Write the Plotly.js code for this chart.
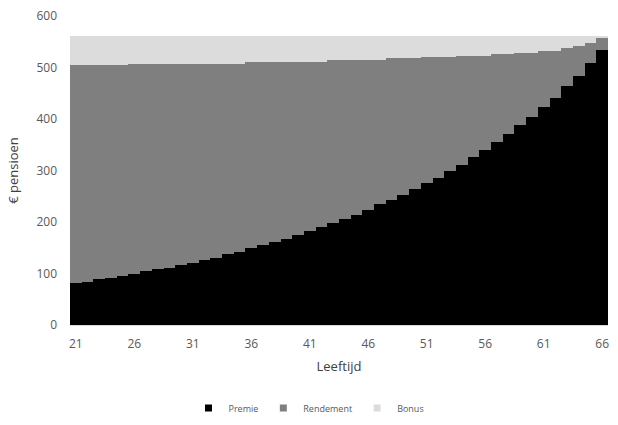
<!DOCTYPE html>
<html>
<head>
<meta charset="utf-8">
<script src="https://cdn.plot.ly/plotly-3.0.1.min.js"></script>
<style>html,body{margin:0;padding:0;background:#fff;}#chart{width:618px;height:425px;}</style>
</head>
<body>
<div id="chart"></div>
<script>
const ages = [21,22,23,24,25,26,27,28,29,30,31,32,33,34,35,36,37,38,39,40,41,42,43,44,45,46,47,48,49,50,51,52,53,54,55,56,57,58,59,60,61,62,63,64,65,66];
const premie = [81,84,89,92,96,100,104,108,111,116,121,126,131,137,142,149,155,162,167,175,182,191,199,206,214,224,234,242,252,265,275,285,299,311,326,340,355,370,388,404,423,441,464,484,508,534];
const rendement = [424,421,416,413,409,407,403,399,396,391,386,381,376,370,365,362,356,349,344,336,329,320,316,309,301,291,281,276,266,253,245,235,221,212,197,183,171,156,141,125,109,91,73,57,39,23];
const bonus = [56,56,56,56,56,54,54,54,54,54,54,54,54,54,54,50,50,50,50,50,50,50,46,46,46,46,46,43,43,43,41,41,41,38,38,38,35,35,32,32,29,29,24,20,14,4];
const tickAges = [21,26,31,36,41,46,51,56,61,66];
const seriesNames = ["Premie","Rendement","Bonus"];

const font = "Open Sans, Liberation Sans, sans-serif";
const colors = ["#000000","#7f7f7f","#dcdcdc"];
const bars = [premie, rendement, bonus].map((vals, i) => ({
  type: "bar",
  name: seriesNames[i],
  legendgroup: seriesNames[i],
  showlegend: false,
  x: ages,
  y: vals,
  marker: {color: colors[i], line: {width: 0}},
  hoverinfo: "x+y+name"
}));
const legendMarks = seriesNames.map((n, i) => ({
  type: "scatter", mode: "markers",
  name: n, legendgroup: n, showlegend: true,
  x: [null], y: [null],
  marker: {symbol: "square", size: 7, color: colors[i]}
}));

const layout = {
  width: 618, height: 425,
  margin: {l: 70, r: 10, t: 16, b: 100},
  paper_bgcolor: "#ffffff", plot_bgcolor: "#ffffff",
  barmode: "stack", bargap: 0,
  font: {family: font, color: "#595959", size: 12},
  xaxis: {
    range: [20.5, 66.5], automargin: false,
    tickmode: "array", tickvals: tickAges, ticktext: tickAges.map(String),
    showgrid: false, zeroline: false,
    showline: true, linecolor: "#d9d9d9", linewidth: 1,
    ticks: "", ticklabelstandoff: 8,
    tickfont: {size: 12, color: "#595959"},
    title: {text: "Leeftijd", font: {size: 13, color: "#404040"}, standoff: 10}
  },
  yaxis: {
    range: [0, 600], dtick: 100, automargin: false,
    showgrid: true, gridcolor: "#d9d9d9", gridwidth: 1,
    zeroline: false, showline: false, ticks: "",
    ticklabelstandoff: 12,
    tickfont: {size: 12, color: "#595959"},
    title: {text: "€ pensioen", font: {size: 13, color: "#404040"}, standoff: 14}
  },
  showlegend: true,
  legend: {
    orientation: "h", traceorder: "normal",
    xref: "container", yref: "container",
    x: 0.5, xanchor: "center", y: 0.04, yanchor: "middle",
    font: {size: 9, color: "#595959"}, itemwidth: 30
  }
};

Plotly.newPlot("chart", bars.concat(legendMarks), layout, {displayModeBar: false, staticPlot: true});
</script>
</body>
</html>
